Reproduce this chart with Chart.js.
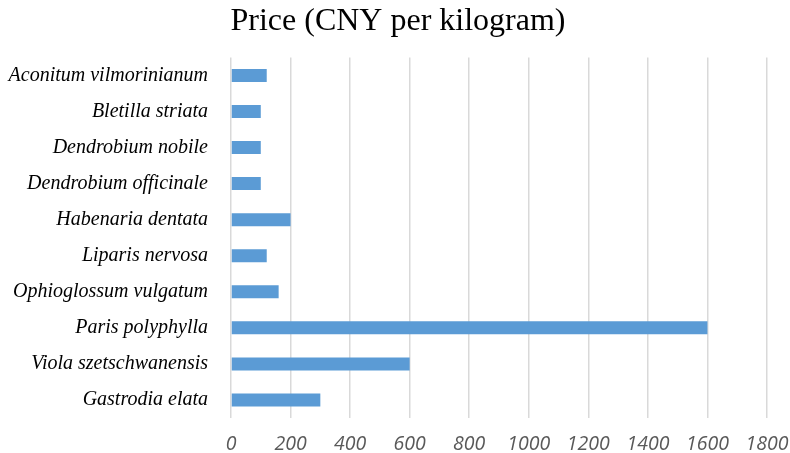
<!DOCTYPE html>
<html>
<head>
<meta charset="utf-8">
<script src="https://cdn.jsdelivr.net/npm/chart.js@4"></script>
<style>
  body { margin: 0; background: #fff; }
  #wrap { width: 790px; height: 453px; }
</style>
</head>
<body>
<div id="wrap"><canvas id="priceChart"></canvas></div>
<script>
// species and price
const species = [
    'Aconitum vilmorinianum',
    'Bletilla striata',
    'Dendrobium nobile',
    'Dendrobium officinale',
    'Habenaria dentata',
    'Liparis nervosa',
    'Ophioglossum vulgatum',
    'Paris polyphylla',
    'Viola szetschwanensis',
    'Gastrodia elata'
];
const prices = [120, 100, 100, 100, 200, 120, 160, 1600, 600, 300];
const xTicks = [0, 200, 400, 600, 800, 1000, 1200, 1400, 1600, 1800];

var ctx = document.getElementById('priceChart').getContext('2d');
new Chart(ctx, {
    type: 'bar',
    data: {
        labels: species,
        datasets: [{
            label: 'Price',
            data: prices,
            backgroundColor: '#5b9bd5',
            borderWidth: 0,
            categoryPercentage: 1,
            barPercentage: 0.36
        }]
    },
    options: {
        indexAxis: 'y',
        responsive: true,
        maintainAspectRatio: false,
        animation: false,
        layout: { padding: { left: 6, right: 0, top: 0, bottom: 0 } },
        plugins: {
            legend: { display: false },
            tooltip: { enabled: false },
            title: {
                display: true,
                text: 'Price (CNY per kilogram)',
                color: '#000',
                font: { family: 'Liberation Serif', size: 32, weight: 'normal' },
                padding: { top: 2, bottom: 17 }
            }
        },
        scales: {
            x: {
                min: 0,
                max: 1800,
                afterBuildTicks: scale => { scale.ticks = xTicks.map(v => ({ value: v })); },
                afterFit: scale => {
                    scale.height = 35;
                    scale.paddingLeft = 0;
                    scale.paddingRight = 23;
                },
                grid: { color: '#d9d9d9', lineWidth: 1.5, drawTicks: false },
                border: { display: false },
                ticks: {
                    color: '#595959',
                    padding: 15,
                    maxRotation: 0,
                    callback: v => String(v),
                    font: { family: 'Open Sans', size: 19.5, style: 'italic' }
                }
            },
            y: {
                grid: { display: false, drawTicks: false },
                border: { display: false },
                afterFit: scale => {
                    scale.width = 225;
                    scale.paddingTop = 0;
                    scale.paddingBottom = 0;
                },
                ticks: {
                    color: '#000',
                    padding: 23,
                    font: { family: 'Liberation Serif', size: 20, style: 'italic' }
                }
            }
        }
    }
});
</script>
</body>
</html>
